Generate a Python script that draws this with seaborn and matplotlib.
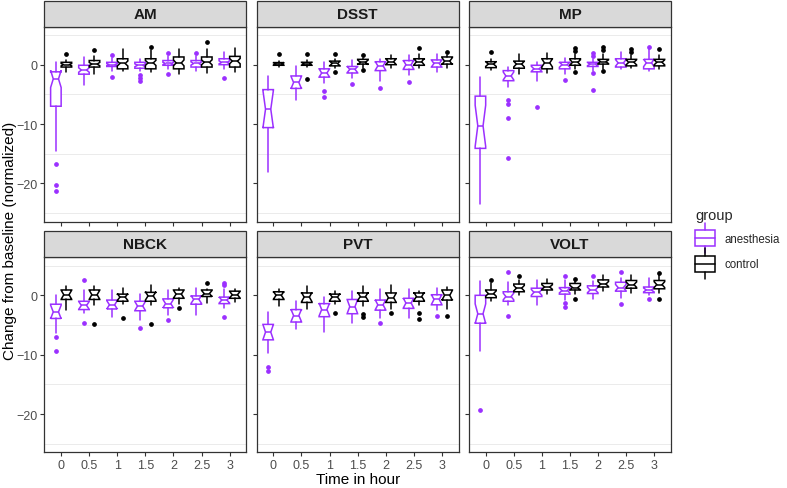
import numpy as np
import pandas as pd
import matplotlib
matplotlib.use("Agg")
import matplotlib.pyplot as plt
import seaborn as sns
from matplotlib.patches import Rectangle
from matplotlib.lines import Line2D
from matplotlib.legend_handler import HandlerBase

TESTS = ["AM", "DSST", "MP", "NBCK", "PVT", "VOLT"]
TIMES = ["0", "0.5", "1", "1.5", "2", "2.5", "3"]
GROUPS = ["anesthesia", "control"]
COLORS = {"anesthesia": "#9B30FF", "control": "#000000"}
# subjects per test (sets notch size)
N_SUBJ = {"AM": 40, "DSST": 10, "MP": 16, "NBCK": 11, "PVT": 10, "VOLT": 20}

# (lower whisker, q1, median, q3, upper whisker) per time point
AM_anesthesia = [(-14.6, -7.0, -2.4, -1.2, 0.4), (-3.4, -1.6, -0.9, -0.1, 1.3), (-1.0, -0.3, 0.0, 0.4, 1.2),
                 (-1.0, -0.6, -0.1, 0.4, 1.0), (-0.7, -0.1, 0.2, 0.7, 1.4), (-1.0, -0.4, 0.2, 0.7, 1.4),
                 (-0.7, 0.0, 0.4, 1.0, 2.2)]
AM_anesthesia_out = [[-16.7, -20.2, -21.2], [], [1.6, -2.0], [-1.7, -2.3, -2.8], [1.9, -1.5], [1.9], [-2.3]]
AM_control = [(-1.3, -0.4, 0.0, 0.4, 0.8), (-1.5, -0.4, 0.1, 0.7, 1.5), (-1.0, -0.7, 0.2, 1.0, 2.6),
              (-1.3, -0.7, 0.3, 1.0, 2.4), (-1.6, -0.7, 0.3, 1.3, 2.6), (-1.4, -0.4, 0.4, 1.3, 2.6),
              (-1.3, -0.4, 0.6, 1.4, 2.8)]
AM_control_out = [[1.8], [2.4], [], [2.9], [], [3.9], []]

DSST_anesthesia = [(-18.0, -10.6, -7.5, -4.2, -1.9), (-6.0, -4.0, -3.0, -1.9, -0.2), (-3.1, -2.1, -1.4, -0.7, 0.5),
                   (-2.2, -1.4, -0.8, -0.3, 0.8), (-2.7, -1.0, -0.2, 0.5, 0.9), (-1.7, -0.8, 0.0, 0.7, 1.6),
                   (-1.3, -0.4, 0.2, 0.8, 1.8)]
DSST_anesthesia_out = [[], [], [-4.4, -5.4], [-3.2], [-4.0], [-3.0], []]
DSST_control = [(-0.4, -0.1, 0.15, 0.35, 0.7), (-0.4, -0.1, 0.15, 0.4, 0.8), (-0.6, -0.2, 0.2, 0.6, 1.0),
                (-0.5, 0.1, 0.4, 0.9, 1.2), (-0.6, 0.0, 0.5, 1.0, 1.6), (-0.6, -0.1, 0.5, 1.0, 1.8),
                (-0.5, 0.1, 0.6, 1.3, 1.7)]
DSST_control_out = [[1.8], [1.8, -2.4], [1.8, -1.3], [1.6, -0.9], [], [2.8], [2.2]]

MP_anesthesia = [(-23.5, -14.1, -10.3, -5.3, -2.1), (-3.8, -2.7, -1.9, -1.0, -0.4), (-2.7, -1.2, -0.7, -0.1, 0.5),
                 (-1.6, -0.7, 0.0, 0.4, 1.2), (-1.0, -0.3, 0.1, 0.4, 1.0), (-0.8, -0.4, 0.3, 1.0, 2.2),
                 (-1.0, -0.7, 0.3, 0.9, 2.6)]
MP_anesthesia_out = [[], [-5.9, -6.7, -8.9, -15.8], [-7.2], [-2.6], [2.0, 1.5, -1.4, -4.2], [], [3.0]]
MP_control = [(-0.9, -0.5, 0.1, 0.5, 1.0), (-1.6, -0.6, 0.1, 0.6, 1.8), (-1.4, -0.7, 0.3, 1.0, 2.0),
              (-0.8, -0.1, 0.4, 1.0, 1.8), (-0.7, 0.1, 0.5, 0.9, 1.8), (-0.6, -0.2, 0.4, 0.9, 1.7),
              (-0.8, -0.2, 0.4, 0.9, 1.7)]
MP_control_out = [[2.1], [], [], [2.8, 2.3, -1.2], [3.0, 2.5, -1.0], [2.6, 2.2], [2.7]]

NBCK_anesthesia = [(-6.4, -3.9, -2.8, -1.5, 0.1), (-2.9, -2.4, -1.7, -1.0, 0.9), (-3.6, -2.3, -1.6, -0.8, 0.9),
                   (-4.2, -2.6, -1.8, -1.0, 0.3), (-3.3, -2.1, -1.4, -0.6, 0.9), (-3.3, -1.5, -0.7, -0.1, 1.2),
                   (-2.1, -1.4, -0.8, -0.3, 1.0)]
NBCK_anesthesia_out = [[-7.1, -9.4], [2.5, -4.7], [], [-5.5], [-4.2], [], [2.0, 1.7, -3.6]]
NBCK_control = [(-2.5, -0.7, 0.1, 0.9, 1.6), (-1.6, -0.7, 0.1, 0.9, 1.5), (-1.4, -1.0, -0.3, 0.2, 1.3),
                (-1.7, -1.0, -0.1, 0.5, 1.8), (-1.4, -0.5, 0.2, 0.9, 1.3), (-1.3, -0.2, 0.3, 0.9, 1.0),
                (-1.2, -0.5, 0.1, 0.7, 1.1)]
NBCK_control_out = [[], [-4.9], [-3.9], [-4.8], [-2.1], [2.1], []]

PVT_anesthesia = [(-9.7, -7.5, -6.2, -4.9, -2.8), (-5.6, -4.5, -3.4, -2.4, -1.0), (-6.2, -3.6, -2.4, -1.4, -0.3),
                  (-4.7, -3.1, -1.9, -0.7, 0.8), (-3.9, -2.5, -1.6, -0.8, 1.0), (-3.9, -2.2, -1.3, -0.5, 1.0),
                  (-2.5, -1.6, -0.7, 0.1, 1.2)]
PVT_anesthesia_out = [[-12.1, -12.8], [], [], [], [-4.7], [], [-3.5]]
PVT_control = [(-1.8, -0.7, 0.0, 0.6, 1.0), (-2.3, -1.2, -0.3, 0.4, 1.5), (-1.4, -1.0, -0.3, 0.2, 0.8),
               (-1.8, -1.0, -0.2, 0.4, 1.5), (-2.3, -1.2, -0.4, 0.4, 1.8), (-1.7, -1.0, -0.2, 0.4, 0.8),
               (-2.3, -0.8, 0.0, 0.9, 1.4)]
PVT_control_out = [[], [], [-3.0], [-3.2, -3.7], [-2.9], [-2.9, -4.0], [-3.5]]

VOLT_anesthesia = [(-9.4, -4.7, -3.1, 0.0, 2.4), (-1.6, -1.0, -0.2, 0.6, 2.3), (-1.6, -0.2, 0.5, 1.2, 2.6),
                   (-0.8, 0.2, 0.8, 1.3, 2.5), (-0.7, 0.3, 0.9, 1.6, 2.4), (-0.5, 0.7, 1.3, 2.2, 3.0),
                   (0.0, 0.45, 0.9, 1.4, 2.9)]
VOLT_anesthesia_out = [[-19.4], [3.9, -3.5], [], [3.3, -1.3, -1.9], [3.3], [3.9, -1.4], [-0.7]]
VOLT_control = [(-0.9, -0.4, 0.3, 0.9, 2.0), (0.0, 0.6, 1.2, 1.9, 2.5), (0.2, 0.9, 1.4, 2.0, 2.8),
                (0.2, 0.9, 1.3, 2.0, 2.4), (0.7, 1.4, 1.9, 2.6, 3.5), (0.4, 1.2, 1.8, 2.5, 3.5),
                (0.4, 1.1, 1.8, 2.5, 3.4)]
VOLT_control_out = [[2.6], [3.3], [], [2.7, -0.7], [], [], [3.8, -0.7]]

SOURCE = {
    ("AM", "anesthesia"): (AM_anesthesia, AM_anesthesia_out), ("AM", "control"): (AM_control, AM_control_out),
    ("DSST", "anesthesia"): (DSST_anesthesia, DSST_anesthesia_out), ("DSST", "control"): (DSST_control, DSST_control_out),
    ("MP", "anesthesia"): (MP_anesthesia, MP_anesthesia_out), ("MP", "control"): (MP_control, MP_control_out),
    ("NBCK", "anesthesia"): (NBCK_anesthesia, NBCK_anesthesia_out), ("NBCK", "control"): (NBCK_control, NBCK_control_out),
    ("PVT", "anesthesia"): (PVT_anesthesia, PVT_anesthesia_out), ("PVT", "control"): (PVT_control, PVT_control_out),
    ("VOLT", "anesthesia"): (VOLT_anesthesia, VOLT_anesthesia_out), ("VOLT", "control"): (VOLT_control, VOLT_control_out),
}

rows = []
for (test, grp), (stats, outs) in SOURCE.items():
    for i, (st, out) in enumerate(zip(stats, outs)):
        rows.append(dict(test=test, group=grp, time=TIMES[i], ti=i, wlo=st[0], q1=st[1], med=st[2],
                         q3=st[3], whi=st[4], fliers=out))
df = pd.DataFrame(rows)

sns.set_theme(style="white")
plt.rcParams["font.family"] = ["Liberation Sans", "DejaVu Sans"]

BOX_W = 0.375
OFFS = {"anesthesia": -0.1875, "control": 0.1875}


def draw_boxes(data, **kws):
    ax = plt.gca()
    for grp in GROUPS:
        sub = data[data.group == grp]
        col = COLORS[grp]
        stats = []
        pos = []
        for _, r in sub.iterrows():
            n = N_SUBJ[r.test]
            half = 1.58 * (r.q3 - r.q1) / np.sqrt(n)
            stats.append(dict(med=r.med, q1=r.q1, q3=r.q3, whislo=r.wlo, whishi=r.whi,
                              fliers=np.array(r.fliers, dtype=float),
                              cilo=r.med - half, cihi=r.med + half))
            pos.append(r.ti + OFFS[grp])
        ax.bxp(stats, positions=pos, widths=BOX_W, shownotches=True, showcaps=False,
               patch_artist=True, manage_ticks=False,
               boxprops=dict(facecolor="white", edgecolor=col, linewidth=1.1),
               medianprops=dict(color=col, linewidth=1.1),
               whiskerprops=dict(color=col, linewidth=1.1),
               flierprops=dict(marker="o", markersize=2.4, markerfacecolor=col,
                               markeredgecolor=col, linestyle="none"))


g = sns.FacetGrid(df, col="test", col_order=TESTS, col_wrap=3, sharex=True, sharey=True,
                  despine=False, height=2.2, aspect=1.1)
g.map_dataframe(draw_boxes)
g.set_titles("")
g.set_axis_labels("", "")

fig = g.figure
fig.set_size_inches(7.87, 4.89)
fig.subplots_adjust(left=44.3 / 787, right=671 / 787, top=1 - 27.7 / 489, bottom=1 - 453.3 / 489,
                    wspace=0.05, hspace=0.183)

panel_h = 195.0
for ax, test in zip(g.axes.flat, TESTS):
    ax.set_xlim(-0.6, 6.6)
    ax.set_ylim(-26.45, 6.4)
    ax.set_xticks(range(len(TIMES)))
    ax.set_xticklabels(TIMES)
    ax.set_yticks([-20, -10, 0])
    ax.set_yticks([-25, -15, -5, 5], minor=True)
    ax.grid(False)
    ax.grid(True, which="minor", axis="y", color="#ebebeb", linewidth=0.7)
    ax.set_axisbelow(True)
    for s in ax.spines.values():
        s.set_color("#333333")
        s.set_linewidth(0.9)
    ax.tick_params(axis="both", which="major", length=3, width=0.8, color="#333333",
                   labelsize=9, labelcolor="#4d4d4d", pad=2, bottom=True, left=True)
    ax.tick_params(axis="y", which="minor", length=0)
    sh = 26.0 / panel_h
    ax.add_patch(Rectangle((0, 1), 1, sh, transform=ax.transAxes, clip_on=False,
                           facecolor="#d9d9d9", edgecolor="#333333", linewidth=0.9, zorder=5))
    ax.text(0.5, 1 + sh / 2, test, transform=ax.transAxes, ha="center", va="center",
            fontsize=11, fontweight="bold", color="#1a1a1a", zorder=6)

for ax in g.axes.flat[:3]:
    ax.tick_params(labelbottom=False)
for i, ax in enumerate(g.axes.flat):
    if i % 3 != 0:
        ax.tick_params(labelleft=False)

fig.text(357.7 / 787, 1 - 480 / 489, "Time in hour", ha="center", va="center", fontsize=11, color="black")
fig.text(10 / 787, 1 - 240.5 / 489, "Change from baseline (normalized)", ha="center", va="center",
         rotation=90, fontsize=11, color="black")


class BoxHandler(HandlerBase):
    def create_artists(self, legend, orig_handle, xdescent, ydescent, width, height, fontsize, trans):
        col = orig_handle.get_color()
        x0, y0 = -xdescent, -ydescent
        cx = x0 + width / 2
        bx0, bx1 = x0, x0 + width
        by0, by1 = y0 + height * 0.08, y0 + height * 0.92
        arts = [
            Rectangle((bx0, by0), bx1 - bx0, by1 - by0, facecolor="white", edgecolor=col, linewidth=1.1,
                      transform=trans),
            Line2D([bx0, bx1], [y0 + height / 2] * 2, color=col, linewidth=1.1, transform=trans),
            Line2D([cx, cx], [y0 - height * 0.3, by0], color=col, linewidth=1.1, transform=trans),
            Line2D([cx, cx], [by1, y0 + height * 1.3], color=col, linewidth=1.1, transform=trans),
        ]
        return arts


handles = [Line2D([], [], color=COLORS[gname]) for gname in GROUPS]
leg = fig.legend(handles, GROUPS, title="group", loc="upper left",
                 bbox_to_anchor=(695 / 787, 1 - 209 / 489), frameon=False,
                 handler_map={Line2D: BoxHandler()}, fontsize=8.3, title_fontsize=10.5,
                 handlelength=1.75, handleheight=2.2, handletextpad=0.8, labelspacing=0.55,
                 borderpad=0, borderaxespad=0, alignment="left")

fig.savefig("out.png", dpi=100)
